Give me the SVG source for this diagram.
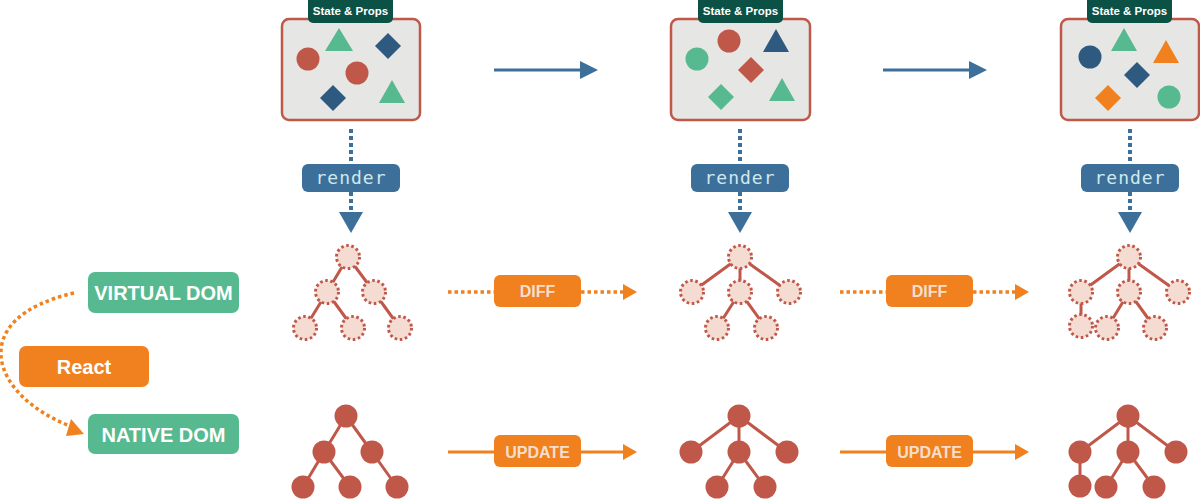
<svg xmlns="http://www.w3.org/2000/svg" width="1200" height="499" viewBox="0 0 1200 499">
<defs>
<style>
.box{fill:#e6e6e4;stroke:#c0584a;stroke-width:2.5}
.lbl{fill:#0b5146}
.lt{font-family:"Liberation Sans",Arial,sans-serif;font-weight:bold;font-size:11.5px;fill:#fff;text-anchor:middle}
.red{fill:#c0584a}
.grn{fill:#57b98f}
.blu{fill:#2f5a80}
.org{fill:#f0811e}
.rbox{fill:#3d6f9b}
.rt{font-family:"DejaVu Sans Mono",monospace;font-size:18px;letter-spacing:1px;fill:#cfe9ee;text-anchor:middle}
.dotb{stroke:#3d6f9b;stroke-width:4;stroke-dasharray:4 3;fill:none}
.edge{stroke:#c0584a;stroke-width:3;fill:none}
.vn{fill:#f5dcd3;stroke:#c0584a;stroke-width:3;stroke-dasharray:2.6 2.6}
.nn{fill:#c0584a}
.gbox{fill:#57b98f}
.gt{font-family:"Liberation Sans",Arial,sans-serif;font-weight:bold;font-size:20px;fill:#fff;text-anchor:middle}
.obox{fill:#f0811e}
.ot{font-family:"Liberation Sans",Arial,sans-serif;font-weight:bold;font-size:16px;fill:#f5dfcf;text-anchor:middle}
.doto{stroke:#f0811e;stroke-width:3.5;stroke-dasharray:3.5 3;fill:none}
.solo{stroke:#f0811e;stroke-width:3;fill:none}
.bl{stroke:#3d6f9b;stroke-width:3;fill:none}
</style>
</defs>

<g id="state1">
<rect class="box" x="282" y="19" width="138" height="101" rx="7"/>
<rect class="lbl" x="308" y="-6" width="85" height="29" rx="5"/>
<text class="lt" x="350.5" y="15">State &amp; Props</text>
<circle class="red" cx="308" cy="59" r="11.5"/>
<polygon class="grn" points="339,28 353,51 325,51"/>
<polygon class="blu" points="388,33 401,46 388,59 375,46"/>
<circle class="red" cx="357" cy="73" r="11.5"/>
<polygon class="blu" points="333,85 346,98 333,111 320,98"/>
<polygon class="grn" points="392,80 405,103 379,103"/>
</g>

<g id="state2">
<rect class="box" x="671" y="19" width="139" height="101" rx="7"/>
<rect class="lbl" x="698" y="-6" width="85" height="29" rx="5"/>
<text class="lt" x="740.5" y="15">State &amp; Props</text>
<circle class="red" cx="729" cy="41" r="11.5"/>
<polygon class="blu" points="776,29 789,52 763,52"/>
<circle class="grn" cx="697" cy="59" r="11.5"/>
<polygon class="red" points="751,57 764,70 751,83 738,70"/>
<polygon class="grn" points="721,84 734,97 721,110 708,97"/>
<polygon class="grn" points="782,78 795,101 769,101"/>
</g>

<g id="state3">
<rect class="box" x="1061" y="19" width="138" height="101" rx="7"/>
<rect class="lbl" x="1087" y="-6" width="85" height="29" rx="5"/>
<text class="lt" x="1129.5" y="15">State &amp; Props</text>
<polygon class="grn" points="1124,28 1137,51 1111,51"/>
<circle class="blu" cx="1090" cy="57" r="11.5"/>
<polygon class="org" points="1166,40 1179,63 1153,63"/>
<polygon class="blu" points="1137,62 1150,75 1137,88 1124,75"/>
<polygon class="org" points="1108,85 1121,98 1108,111 1095,98"/>
<circle class="grn" cx="1169" cy="97" r="11.5"/>
</g>

<g id="connectors">
<line class="bl" x1="494" y1="70" x2="582" y2="70"/>
<polygon fill="#3d6f9b" points="580,61 598,70 580,79"/>
<line class="bl" x1="883" y1="70" x2="971" y2="70"/>
<polygon fill="#3d6f9b" points="969,61 987,70 969,79"/>

<line class="dotb" x1="351" y1="129" x2="351" y2="164"/>
<line class="dotb" x1="351" y1="192" x2="351" y2="213"/>
<polygon fill="#3d6f9b" points="339,212 363,212 351,233"/>
<line class="dotb" x1="740" y1="129" x2="740" y2="164"/>
<line class="dotb" x1="740" y1="192" x2="740" y2="213"/>
<polygon fill="#3d6f9b" points="728,212 752,212 740,233"/>
<line class="dotb" x1="1130" y1="129" x2="1130" y2="164"/>
<line class="dotb" x1="1130" y1="192" x2="1130" y2="213"/>
<polygon fill="#3d6f9b" points="1118,212 1142,212 1130,233"/>

<line class="doto" x1="448" y1="292" x2="494" y2="292"/>
<line class="doto" x1="581" y1="292" x2="624" y2="292"/>
<polygon fill="#f0811e" points="623,284 637,292 623,300"/>
<line class="doto" x1="840" y1="292" x2="886" y2="292"/>
<line class="doto" x1="973" y1="292" x2="1016" y2="292"/>
<polygon fill="#f0811e" points="1015,284 1029,292 1015,300"/>

<line class="solo" x1="448" y1="452" x2="624" y2="452"/>
<polygon fill="#f0811e" points="623,444 637,452 623,460"/>
<line class="solo" x1="840" y1="452" x2="1016" y2="452"/>
<polygon fill="#f0811e" points="1015,444 1029,452 1015,460"/>

<path class="doto" d="M74,293 C-35,318 -10,395 70,426"/>
<polygon fill="#f0811e" points="71,419 84,434 66,436"/>
</g>

<g id="render1"><rect class="rbox" x="302" y="164" width="98" height="28" rx="6"/><text class="rt" x="351" y="184">render</text></g>
<g id="render2"><rect class="rbox" x="691" y="164" width="98" height="28" rx="6"/><text class="rt" x="740" y="184">render</text></g>
<g id="render3"><rect class="rbox" x="1081" y="164" width="98" height="28" rx="6"/><text class="rt" x="1130" y="184">render</text></g>

<g id="diff1"><rect class="obox" x="494" y="275" width="87" height="32" rx="6"/><text class="ot" x="537.5" y="297">DIFF</text></g>
<g id="diff2"><rect class="obox" x="886" y="275" width="87" height="32" rx="6"/><text class="ot" x="929.5" y="297">DIFF</text></g>
<g id="update1"><rect class="obox" x="494" y="435" width="87" height="32" rx="6"/><text class="ot" x="537.5" y="457.5">UPDATE</text></g>
<g id="update2"><rect class="obox" x="886" y="435" width="87" height="32" rx="6"/><text class="ot" x="929.5" y="457.5">UPDATE</text></g>

<g id="vdom-label"><rect class="gbox" x="88" y="272" width="151" height="41" rx="7"/><text class="gt" x="163.5" y="300">VIRTUAL DOM</text></g>
<g id="react"><rect class="obox" x="19" y="346" width="130" height="41" rx="7"/><text class="gt" x="84" y="373.5">React</text></g>
<g id="ndom-label"><rect class="gbox" x="88" y="414" width="151" height="40" rx="7"/><text class="gt" x="163.5" y="441.5">NATIVE DOM</text></g>

<g id="vtree1">
<path class="edge" d="M348,257 L327,292 M348,257 L374,292 M327,292 L305,328 M327,292 L353,328 M374,292 L400,328"/>
<circle class="vn" cx="348" cy="257" r="11.5"/>
<circle class="vn" cx="327" cy="292" r="11.5"/>
<circle class="vn" cx="374" cy="292" r="11.5"/>
<circle class="vn" cx="305" cy="328" r="11.5"/>
<circle class="vn" cx="353" cy="328" r="11.5"/>
<circle class="vn" cx="400" cy="328" r="11.5"/>
</g>
<g id="vtree2">
<path class="edge" d="M740,257 L692,292 M740,257 L740,292 M740,257 L789,292 M740,292 L717,328 M740,292 L766,328"/>
<circle class="vn" cx="740" cy="257" r="11.5"/>
<circle class="vn" cx="692" cy="292" r="11.5"/>
<circle class="vn" cx="740" cy="292" r="11.5"/>
<circle class="vn" cx="789" cy="292" r="11.5"/>
<circle class="vn" cx="717" cy="328" r="11.5"/>
<circle class="vn" cx="766" cy="328" r="11.5"/>
</g>
<g id="vtree3">
<path class="edge" d="M1129,257 L1081,292 M1129,257 L1129,292 M1129,257 L1178,292 M1081,292 L1081,326 M1129,292 L1107,328 M1129,292 L1155,328"/>
<circle class="vn" cx="1129" cy="257" r="11.5"/>
<circle class="vn" cx="1081" cy="292" r="11.5"/>
<circle class="vn" cx="1129" cy="292" r="11.5"/>
<circle class="vn" cx="1178" cy="292" r="11.5"/>
<circle class="vn" cx="1081" cy="326" r="11.5"/>
<circle class="vn" cx="1107" cy="328" r="11.5"/>
<circle class="vn" cx="1155" cy="328" r="11.5"/>
</g>

<g id="ntree1">
<path class="edge" d="M346,416 L324,452 M346,416 L372,452 M324,452 L303,487 M324,452 L350,487 M372,452 L397,487"/>
<circle class="nn" cx="346" cy="416" r="11.5"/>
<circle class="nn" cx="324" cy="452" r="11.5"/>
<circle class="nn" cx="372" cy="452" r="11.5"/>
<circle class="nn" cx="303" cy="487" r="11.5"/>
<circle class="nn" cx="350" cy="487" r="11.5"/>
<circle class="nn" cx="397" cy="487" r="11.5"/>
</g>
<g id="ntree2">
<path class="edge" d="M739,416 L691,452 M739,416 L739,452 M739,416 L787,452 M739,452 L717,487 M739,452 L765,487"/>
<circle class="nn" cx="739" cy="416" r="11.5"/>
<circle class="nn" cx="691" cy="452" r="11.5"/>
<circle class="nn" cx="739" cy="452" r="11.5"/>
<circle class="nn" cx="787" cy="452" r="11.5"/>
<circle class="nn" cx="717" cy="487" r="11.5"/>
<circle class="nn" cx="765" cy="487" r="11.5"/>
</g>
<g id="ntree3">
<path class="edge" d="M1128,416 L1080,452 M1128,416 L1128,452 M1128,416 L1176,452 M1080,452 L1080,486 M1128,452 L1106,487 M1128,452 L1154,487"/>
<circle class="nn" cx="1128" cy="416" r="11.5"/>
<circle class="nn" cx="1080" cy="452" r="11.5"/>
<circle class="nn" cx="1128" cy="452" r="11.5"/>
<circle class="nn" cx="1176" cy="452" r="11.5"/>
<circle class="nn" cx="1080" cy="486" r="11.5"/>
<circle class="nn" cx="1106" cy="487" r="11.5"/>
<circle class="nn" cx="1154" cy="487" r="11.5"/>
</g>
</svg>
